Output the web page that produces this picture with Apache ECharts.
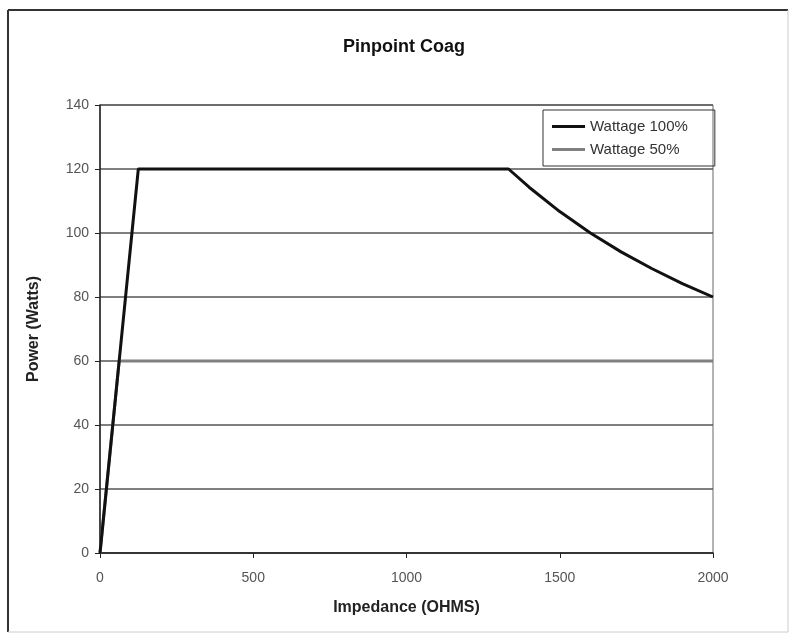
<!DOCTYPE html>
<html>
<head>
<meta charset="utf-8">
<script src="https://cdn.jsdelivr.net/npm/echarts@6/dist/echarts.min.js"></script>
<style>
html,body{margin:0;padding:0;background:#fff;}
#chart{width:794px;height:637px;}
</style>
</head>
<body>
<div id="chart"></div>
<script>
const titleText = 'Pinpoint Coag';
const xName = 'Impedance (OHMS)';
const yName = 'Power (Watts)';
const seriesNames = ['Wattage 100%', 'Wattage 50%'];
const impedance100 = [0, 125, 1333, 1400, 1500, 1600, 1700, 1800, 1900, 2000];
const power100 = [0, 120, 120, 114.3, 106.7, 100, 94.1, 88.9, 84.2, 80];
const impedance50 = [0, 62.5, 2000];
const power50 = [0, 60, 60];

const chart = echarts.init(document.getElementById('chart'));
const font = 'Liberation Sans, Arial, sans-serif';
chart.setOption({
  animation: false,
  backgroundColor: '#fff',
  title: {
    text: titleText, left: 338, top: 33,
    textStyle: {fontFamily: font, fontSize: 18, fontWeight: 'bold', color: '#111'}
  },
  legend: {
    orient: 'vertical', left: 543, top: 110,
    data: seriesNames,
    icon: 'rect',
    borderColor: '#333', borderWidth: 1, padding: [9, 27, 9, 9],
    itemWidth: 33, itemHeight: 3, itemGap: 8,
    textStyle: {fontFamily: font, fontSize: 15, color: '#333'}
  },
  grid: {
    left: 100, right: 81, top: 105, bottom: 84,
    show: true, borderColor: '#666', borderWidth: 1
  },
  xAxis: {
    type: 'value', min: 0, max: 2000, interval: 500,
    name: xName, nameLocation: 'middle', nameGap: 47,
    nameTextStyle: {fontFamily: font, fontSize: 16, fontWeight: 'bold', color: '#222'},
    axisLine: {lineStyle: {color: '#222', width: 1.5}},
    axisTick: {show: true, inside: false, length: 5, lineStyle: {color: '#222'}},
    axisLabel: {fontFamily: font, fontSize: 14, color: '#555', margin: 18, formatter: v => String(v)},
    splitLine: {show: false}
  },
  yAxis: {
    type: 'value', min: 0, max: 140, interval: 20,
    name: yName, nameLocation: 'middle', nameGap: 58, nameRotate: 90,
    nameTextStyle: {fontFamily: font, fontSize: 16, fontWeight: 'bold', color: '#222'},
    axisLine: {show: true, lineStyle: {color: '#222', width: 1.5}},
    axisTick: {show: true, inside: false, length: 5, lineStyle: {color: '#222'}},
    axisLabel: {fontFamily: font, fontSize: 14, color: '#555', margin: 11},
    splitLine: {show: true, lineStyle: {color: '#555', width: 1.5}}
  },
  graphic: [
    {type: 'line', shape: {x1: 8, y1: 10, x2: 8, y2: 632}, style: {stroke: '#333', lineWidth: 2}},
    {type: 'line', shape: {x1: 8, y1: 10, x2: 788, y2: 10}, style: {stroke: '#333', lineWidth: 2}},
    {type: 'line', shape: {x1: 788, y1: 10, x2: 788, y2: 632}, style: {stroke: '#ccc', lineWidth: 1}},
    {type: 'line', shape: {x1: 8, y1: 632, x2: 788, y2: 632}, style: {stroke: '#ccc', lineWidth: 1}}
  ],
  series: [
    {
      name: seriesNames[0], type: 'line', symbol: 'none', z: 3,
      data: impedance100.map((x, i) => [x, power100[i]]),
      lineStyle: {color: '#111', width: 3}, itemStyle: {color: '#111'}
    },
    {
      name: seriesNames[1], type: 'line', symbol: 'none', z: 2,
      data: impedance50.map((x, i) => [x, power50[i]]),
      lineStyle: {color: '#808080', width: 3}, itemStyle: {color: '#808080'}
    }
  ]
});
</script>
</body>
</html>
